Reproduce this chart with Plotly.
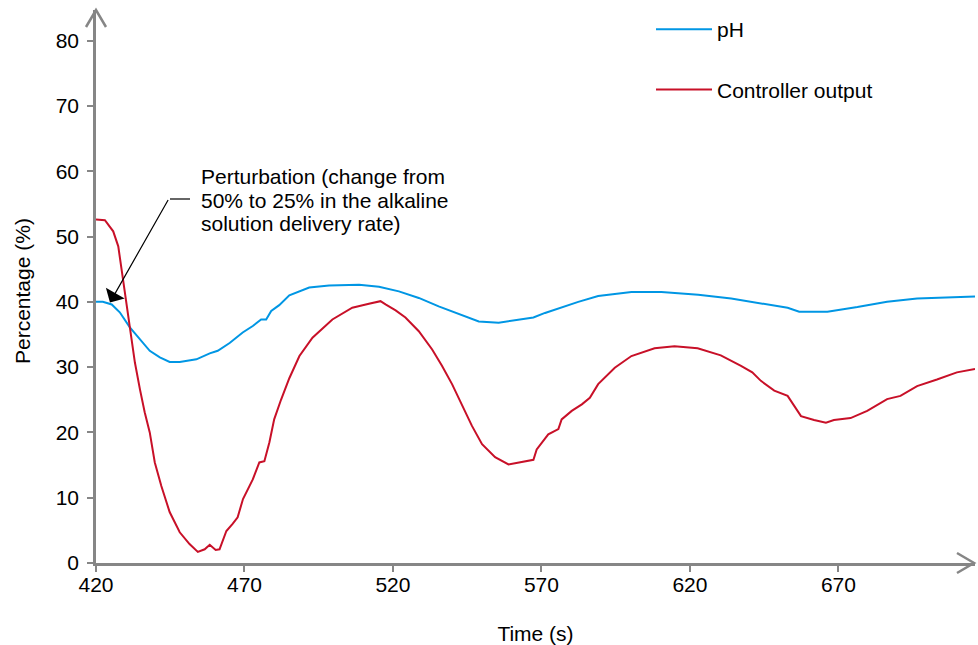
import plotly.graph_objects as go

# ---- data ----
ph_time = [420, 422.3, 425.3, 428, 431.4, 434.8, 438.1, 441.5, 444.8, 448.2, 453.8, 458.3, 461, 465,
           469.4, 472.8, 475.6, 477.3, 479, 481.7, 485.1, 491.8, 498.5, 508.6, 515.3, 522, 528.7, 535.4,
           542.1, 548.9, 555.6, 562.3, 567.3, 571.2, 576.8, 582.4, 589.1, 600.3, 610.4, 622.8, 633.9,
           639.5, 643.9, 652.9, 656.8, 666.3, 676.4, 686.4, 696.5, 706.6, 716]
ph_value = [40, 40, 39.6, 38.4, 36.1, 34.2, 32.5, 31.5, 30.8, 30.8, 31.2, 32.1, 32.5, 33.7,
            35.3, 36.3, 37.3, 37.3, 38.6, 39.5, 41.0, 42.2, 42.5, 42.6, 42.3, 41.6, 40.6, 39.3,
            38.1, 37.0, 36.8, 37.2, 37.6, 38.3, 39.2, 40.0, 40.9, 41.5, 41.5, 41.1, 40.5,
            40.1, 39.7, 39.1, 38.5, 38.5, 39.2, 40.0, 40.5, 40.7, 40.8]

co_time = [420, 423, 425.8, 427.5, 428.6, 429.7, 430.8, 432, 433.1, 434.8, 436.4, 438.1, 439.8, 442,
           444.8, 448.2, 451.5, 454.3, 456.6, 458.3, 460.3, 461.6, 463.9, 466, 467.7, 469.5, 472.8,
           475, 476.7, 478.4, 480, 482.3, 485.1, 488.5, 492.9, 499.6, 506.3, 511.9, 515.8, 517.5,
           520.9, 524.2, 528.7, 533.2, 536.5, 539.9, 543.3, 546.6, 550, 554.4, 558.9, 563.4, 567.3,
           568.4, 572.3, 575.7, 576.8, 580.2, 583.6, 586.3, 589.1, 594.7, 600.3, 608.1, 614.8, 622.6,
           630.4, 637.2, 641, 643.9, 648.4, 652.9, 655.1, 657.4, 661.8, 665.8, 668.5, 674.1, 679.7,
           686.4, 690.9, 696.5, 703.2, 709.9, 716]
co_value = [52.6, 52.5, 50.8, 48.5, 45.0, 41.4, 37.8, 34.3, 30.7, 26.6, 23.1, 20.0, 15.4, 11.8,
            7.8, 4.7, 2.9, 1.7, 2.1, 2.8, 2.0, 2.1, 4.9, 6.0, 7.0, 9.8, 12.8,
            15.4, 15.6, 18.5, 22.0, 25.0, 28.3, 31.7, 34.5, 37.3, 39.1, 39.7, 40.1, 39.6,
            38.7, 37.6, 35.5, 32.7, 30.2, 27.4, 24.1, 21.0, 18.2, 16.2, 15.1, 15.5, 15.8,
            17.4, 19.7, 20.5, 22.0, 23.3, 24.3, 25.3, 27.4, 29.9, 31.7, 32.9, 33.2, 32.9,
            31.8, 30.2, 29.2, 27.9, 26.4, 25.6, 24.1, 22.5, 21.9, 21.5, 21.9, 22.2, 23.3,
            25.1, 25.6, 27.1, 28.1, 29.2, 29.7]

x_ticks = [420, 470, 520, 570, 620, 670]
y_ticks = [0, 10, 20, 30, 40, 50, 60, 70, 80]
note_lines = ["Perturbation (change from", "50% to 25% in the alkaline", "solution delivery rate)"]

BLUE = "rgb(0,150,228)"
RED = "rgb(200,16,40)"
GREY = "rgb(134,134,134)"
FONT = "Liberation Sans, Arial, sans-serif"
FS = 21

fig = go.Figure()
fig.add_trace(go.Scatter(x=ph_time, y=ph_value, mode="lines", name="pH",
                         line=dict(color=BLUE, width=2), legendgroup="a"))
fig.add_trace(go.Scatter(x=co_time, y=co_value, mode="lines", name="Controller output",
                         line=dict(color=RED, width=2), legendgroup="b"))

# body margin removed via post_script, so figure coords = page coords
W, H = 978, 645
ml, mr, mt, mb = 96, 3, 10, 82
pw, ph = W - ml - mr, H - mt - mb

def px(xa):
    return (xa - ml) / pw

def py(ya):
    return (H - mb - ya) / ph

shapes = [
    dict(type="path", xref="paper", yref="paper",
         path=f"M {px(86)},{py(27)} L {px(96)},{py(10)} L {px(106)},{py(27)}",
         line=dict(color=GREY, width=2.5)),
    dict(type="path", xref="paper", yref="paper",
         path=f"M {px(957)},{py(553)} L {px(974)},{py(563)} L {px(957)},{py(573)}",
         line=dict(color=GREY, width=2.5)),
    dict(type="line", xref="paper", yref="paper",
         x0=px(170), y0=py(199), x1=px(190), y1=py(199),
         line=dict(color="black", width=1.2)),
]

annotations = [
    dict(x=424.7, y=39.9, xref="x", yref="y", ax=59, ay=-104, text="",
         showarrow=True, arrowhead=1, arrowsize=3, arrowwidth=1.2, arrowcolor="black"),
    dict(x=px(22), y=py(291), xref="paper", yref="paper", xanchor="center", yanchor="middle",
         textangle=-90, showarrow=False, text="Percentage (%)",
         font=dict(size=FS, color="black", family=FONT)),
]
for i, line in enumerate(note_lines):
    annotations.append(dict(x=px(199), y=py(176 + 24 * i), xref="paper", yref="paper",
                            xanchor="left", yanchor="middle", align="left", showarrow=False,
                            text=line, font=dict(size=FS, color="black", family=FONT)))

fig.update_layout(
    width=W, height=H,
    margin=dict(l=ml, r=mr, t=mt, b=mb),
    paper_bgcolor="white", plot_bgcolor="white",
    font=dict(family=FONT, size=FS, color="black"),
    showlegend=True,
    legend=dict(x=px(651), y=py(9), xanchor="left", yanchor="top",
                tracegroupgap=30, itemwidth=56, bgcolor="rgba(0,0,0,0)",
                font=dict(size=FS, family=FONT)),
    shapes=shapes,
    annotations=annotations,
    xaxis=dict(range=[420, 716], tickvals=x_ticks, ticktext=[str(v) for v in x_ticks],
               showgrid=False, zeroline=False, showline=True, linecolor=GREY, linewidth=2.5,
               ticks="outside", ticklen=6, tickwidth=2, tickcolor=GREY, ticklabelstandoff=-5,
               title=dict(text="Time (s)", standoff=36, font=dict(size=FS)),
               automargin=False),
    yaxis=dict(range=[0, 84.7], tickvals=y_ticks, ticktext=[str(v) for v in y_ticks],
               showgrid=False, zeroline=False, showline=True, linecolor=GREY, linewidth=2.5,
               ticks="outside", ticklen=6, tickwidth=2, tickcolor=GREY, ticklabelstandoff=4,
               automargin=False),
)

fig.write_html("out.html", config={"displayModeBar": False},
               post_script="document.body.style.margin='0';document.body.style.overflow='hidden';")
